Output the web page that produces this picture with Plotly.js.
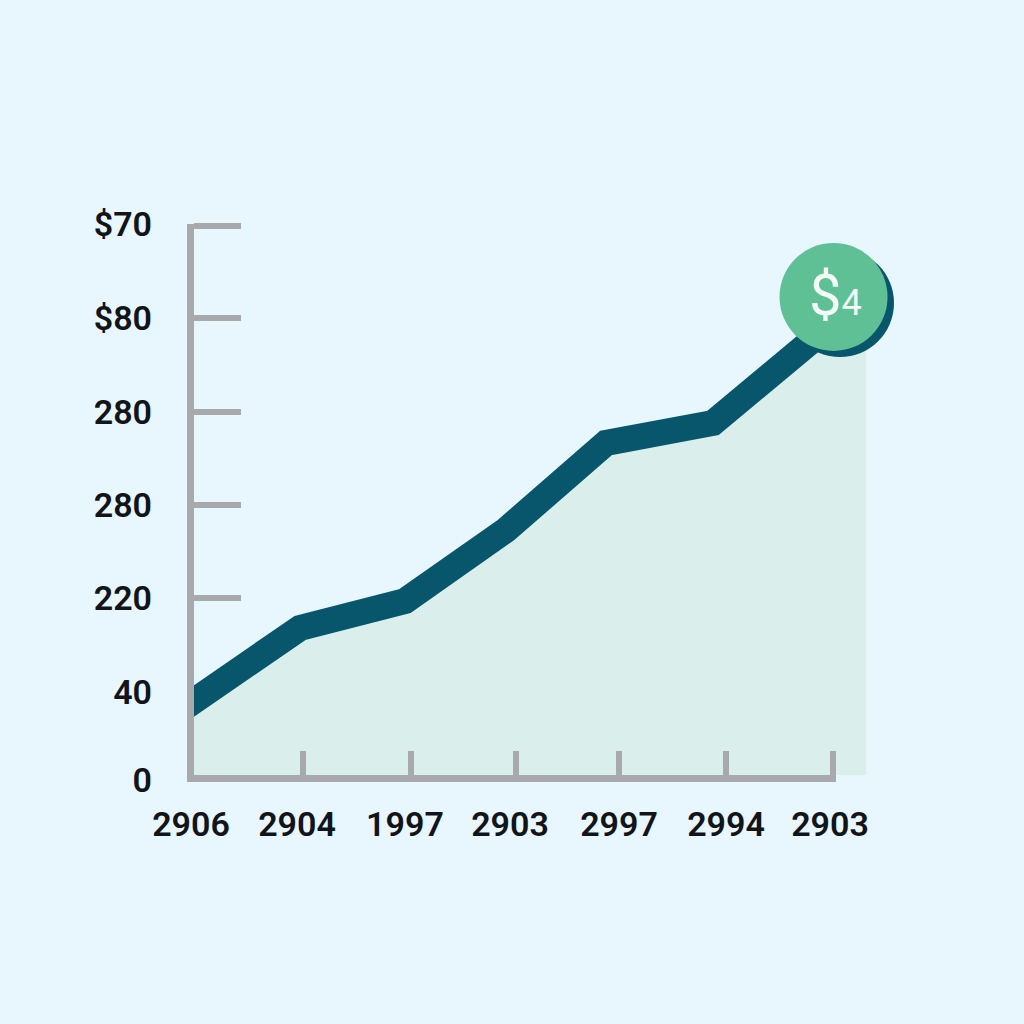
<!DOCTYPE html>
<html>
<head>
<meta charset="utf-8">
<script src="https://cdn.plot.ly/plotly-3.0.1.min.js"></script>
<style>html,body{margin:0;padding:0;background:#E8F6FE;}#chart{width:1024px;height:1024px;}</style>
</head>
<body>
<div id="chart"></div>
<script>
var xLabels = ['2906','2904','1997','2903','2997','2994','2903'];
var xLabelVals = [-0.028,0.972,1.99,2.981,4.009,5.019,6];
var xTickVals = [0,1.028,2.047,3.038,4.009,5.019,6.028];
var yLabels = ['$70','$80','280','280','220','40','0'];
var yLabelVals = [5.925,4.914,3.903,2.903,1.903,0.892,-0.054];
var yTickVals = [5.903,4.914,3.903,2.903,1.903];
var seriesX = [-0.2,1,1.991,2.943,3.887,4.896,6.038];
var seriesY = [0.639,1.581,1.871,2.634,3.57,3.785,4.871];
var areaExtraX = [6.34];
var areaExtraY = [4.871];
var badgeX = [6.033];
var badgeY = [5.14];
var badgeShadowX = [6.094];
var badgeShadowY = [5.075];

var C = {bg:'#E8F6FE',area:'#DAEFEC',line:'#07566B',green:'#5FC096',axis:'#A8A9AD',text:'#111418'};
var W = 1024;
var tickFont = {family:'Roboto, sans-serif',size:34,color:C.text,weight:600};

function dummy(xa,ya){return {x:[],y:[],xaxis:xa,yaxis:ya,mode:'none',type:'scatter',hoverinfo:'skip',showlegend:false};}

var traces = [
  {x:seriesX.concat(areaExtraX),y:seriesY.concat(areaExtraY),mode:'none',type:'scatter',fill:'tozeroy',fillcolor:C.area,hoverinfo:'skip',showlegend:false},
  {x:seriesX,y:seriesY,mode:'lines',type:'scatter',line:{color:C.line,width:26},hoverinfo:'skip',showlegend:false},
  {x:badgeShadowX,y:badgeShadowY,mode:'markers',type:'scatter',marker:{color:C.line,size:108},hoverinfo:'skip',showlegend:false},
  {x:badgeX,y:badgeY,mode:'markers',type:'scatter',marker:{color:C.green,size:108},hoverinfo:'skip',showlegend:false},
  dummy('x2','y'),dummy('x3','y'),dummy('x','y2')
];

var layout = {
  width:1024,height:1024,autosize:false,
  margin:{l:0,r:0,t:0,b:0},
  paper_bgcolor:C.bg,plot_bgcolor:'rgba(0,0,0,0)',
  showlegend:false,
  xaxis:{domain:[194/W,900/W],range:[0,6.66],showgrid:false,zeroline:false,showline:false,showticklabels:false,ticks:'',anchor:'y',fixedrange:true},
  xaxis2:{domain:[194/W,836/W],range:[0,6.057],anchor:'y',showgrid:false,zeroline:false,showline:true,linecolor:C.axis,linewidth:7,
    tickmode:'array',tickvals:xTickVals,ticks:'inside',ticklen:24,tickwidth:6,tickcolor:C.axis,showticklabels:false,fixedrange:true},
  xaxis3:{domain:[150/W,900/W],range:[-0.415,6.66],anchor:'y',showgrid:false,zeroline:false,showline:false,
    tickmode:'array',tickvals:xLabelVals,ticktext:xLabels,ticks:'',tickfont:tickFont,ticklabelstandoff:26,fixedrange:true},
  yaxis:{domain:[(W-775)/W,(W-224.4)/W],range:[0,5.92],showgrid:false,zeroline:false,showline:true,linecolor:C.axis,linewidth:7,
    tickmode:'array',tickvals:yTickVals,ticks:'inside',ticklen:47,tickwidth:6,tickcolor:C.axis,showticklabels:false,anchor:'x',fixedrange:true},
  yaxis2:{domain:[(W-800)/W,(W-190)/W],range:[-0.269,6.29],anchor:'x',showgrid:false,zeroline:false,showline:false,
    tickmode:'array',tickvals:yLabelVals,ticktext:yLabels,ticks:'',tickfont:tickFont,ticklabelstandoff:41,fixedrange:true},
  annotations:[{
    x:badgeX[0],y:badgeY[0],xref:'x',yref:'y',xshift:2,yshift:2,showarrow:false,
    text:'<span style="font-size:58px">$</span><span style="font-size:36px">4</span>',
    font:{family:'Roboto, sans-serif',size:40,color:'#F2FBF6',weight:400}
  }]
};
Plotly.newPlot('chart',traces,layout,{displayModeBar:false,staticPlot:true});
</script>
</body>
</html>
